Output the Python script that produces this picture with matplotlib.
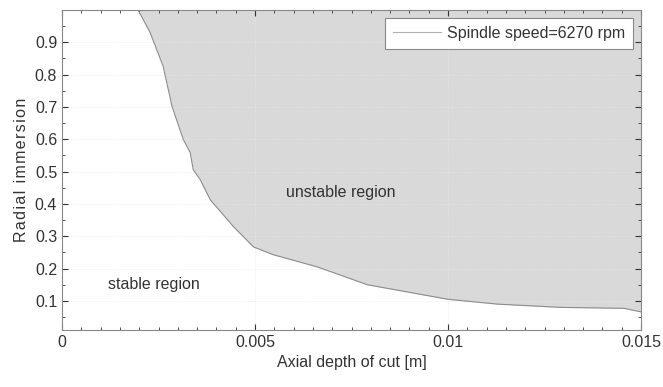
import matplotlib.pyplot as plt
from matplotlib.ticker import MultipleLocator

plt.rcParams['font.family'] = ['Liberation Sans', 'DejaVu Sans']

# stability boundary (axial depth [m], radial immersion)
depth = [0.00197, 0.00228, 0.00262, 0.00285, 0.00314, 0.00332, 0.0034, 0.00358,
         0.00384, 0.00444, 0.00496, 0.00547, 0.00662, 0.00791, 0.00921, 0.0100,
         0.01129, 0.01292, 0.01456, 0.015]
immersion = [1.0, 0.931, 0.826, 0.702, 0.6, 0.559, 0.506, 0.475,
             0.413, 0.33, 0.267, 0.243, 0.205, 0.15, 0.122, 0.105,
             0.09, 0.08, 0.077, 0.066]

fig = plt.figure(figsize=(6.63, 3.87), dpi=100)
ax = fig.add_axes([62/663, 1 - 330/387, (641-62)/663, (330-10)/387])

ax.fill_between(depth, immersion, 1.0, color='#d9d9d9', lw=0)
ax.plot(depth, immersion, color='#8c8c8c', lw=0.8, label='Spindle speed=6270 rpm')

ax.set_xlim(0, 0.015)
ax.set_ylim(0.01, 1.0)
ax.set_xticks([0, 0.005, 0.01, 0.015])
ax.set_xticklabels(['0', '0.005', '0.01', '0.015'])
ax.set_yticks([0.1, 0.2, 0.3, 0.4, 0.5, 0.6, 0.7, 0.8, 0.9])
ax.xaxis.set_minor_locator(MultipleLocator(0.0005))
ax.yaxis.set_minor_locator(MultipleLocator(0.05))
ax.tick_params(which='both', direction='in', top=True, right=True, labelsize=11.5, colors='#333333')
ax.tick_params(which='major', length=4)
ax.tick_params(which='minor', length=2)
for s in ax.spines.values():
    s.set_color('#888888')
    s.set_linewidth(0.8)
ax.grid(True, which='major', ls=':', color='#e8e8e8', lw=0.6)

ax.set_xlabel('Axial depth of cut [m]', fontsize=11.5, color='#333333')
hs = '\u200a'
ax.set_ylabel(hs.join('Radial immersion'), fontsize=11.5, color='#333333')

ax.text(0.00721, 0.435, 'unstable region', fontsize=11.5, ha='center', va='center', color='#333333')
ax.text(0.00239, 0.15, 'stable region', fontsize=11.5, ha='center', va='center', color='#333333')

leg = ax.legend(loc='upper right', fontsize=11.5, frameon=True, fancybox=False,
                handlelength=3, handletextpad=0.4, borderpad=0.5, borderaxespad=0.5,
                framealpha=1, facecolor='white', labelcolor='#333333')
leg.get_frame().set_edgecolor('#888888')
leg.get_frame().set_linewidth(0.8)
leg.get_lines()[0].set_color('#b0b0b0')

fig.savefig('out.png', dpi=100)
